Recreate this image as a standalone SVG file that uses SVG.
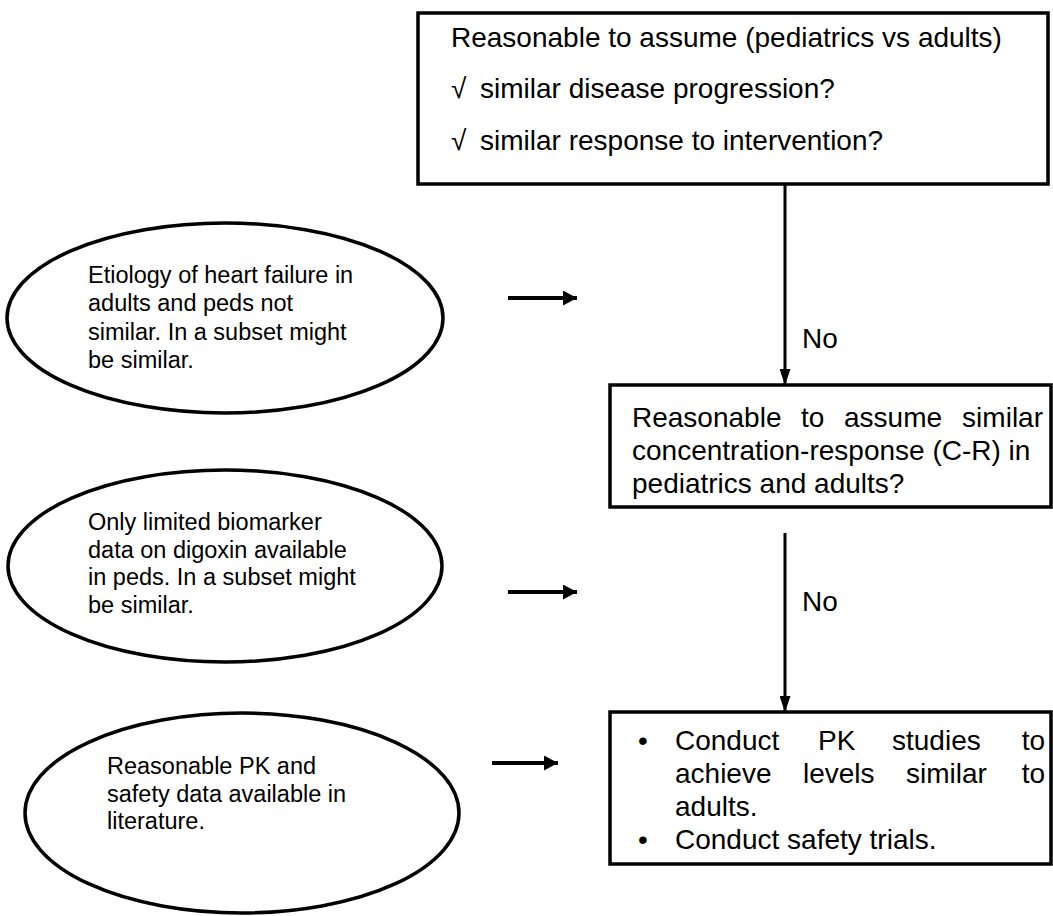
<svg xmlns="http://www.w3.org/2000/svg" width="1053" height="916" viewBox="0 0 1053 916">
<style>
.box{fill:#fff;stroke:#000;stroke-width:3.5}
.ell{fill:#fff;stroke:#000;stroke-width:3.5}
.bt{font-family:"Liberation Sans",Arial,sans-serif;font-size:28px;fill:#000}
.et{font-family:"Liberation Sans",Arial,sans-serif;font-size:23.5px;fill:#000}
.lh{stroke:#000;stroke-width:4;fill:none}
.lv{stroke:#000;stroke-width:3;fill:none}
</style>
<defs>
<marker id="ahh" markerUnits="userSpaceOnUse" markerWidth="14" markerHeight="15" refX="14" refY="7.5" orient="auto">
<path d="M0,0 L14,7.5 L0,15 Z" fill="#000"/>
</marker>
<marker id="ahv" markerUnits="userSpaceOnUse" markerWidth="16" markerHeight="11" refX="16" refY="5.5" orient="auto">
<path d="M0,0 L16,5.5 L0,11 Z" fill="#000"/>
</marker>
</defs>
<rect width="1053" height="916" fill="#fff"/>
<g id="top-box">
<rect class="box" x="418" y="13" width="630" height="171"/>
<text class="bt" x="451" y="47">Reasonable to assume (pediatrics vs adults)</text>
<text class="bt" x="451" y="98">√</text>
<text class="bt" x="480" y="98">similar disease progression?</text>
<text class="bt" x="451" y="150">√</text>
<text class="bt" x="480" y="150">similar response to intervention?</text>
</g>
<g id="box-cr">
<rect class="box" x="610" y="385" width="441" height="122"/>
<text class="bt" x="632" y="427">Reasonable</text>
<text class="bt" x="801" y="427">to</text>
<text class="bt" x="844" y="427">assume</text>
<text class="bt" x="1043" y="427" text-anchor="end">similar</text>
<text class="bt" x="632" y="460">concentration-response (C-R) in</text>
<text class="bt" x="632" y="493">pediatrics and adults?</text>
</g>
<g id="box-pk">
<rect class="box" x="610" y="712" width="441" height="152"/>
<text class="bt" x="638" y="750">•</text>
<text class="bt" x="675" y="750">Conduct</text>
<text class="bt" x="818" y="750">PK</text>
<text class="bt" x="892" y="750">studies</text>
<text class="bt" x="1045" y="750" text-anchor="end">to</text>
<text class="bt" x="675" y="783">achieve</text>
<text class="bt" x="803" y="783">levels</text>
<text class="bt" x="906" y="783">similar</text>
<text class="bt" x="1045" y="783" text-anchor="end">to</text>
<text class="bt" x="675" y="816">adults.</text>
<text class="bt" x="638" y="849">•</text>
<text class="bt" x="675" y="849">Conduct safety trials.</text>
</g>
<g id="ellipse-etiology">
<ellipse class="ell" cx="225" cy="318" rx="218" ry="95"/>
<text class="et" x="88" y="283">Etiology of heart failure in</text>
<text class="et" x="88" y="311">adults and peds not</text>
<text class="et" x="88" y="340">similar. In a subset might</text>
<text class="et" x="88" y="368">be similar.</text>
</g>
<g id="ellipse-biomarker">
<ellipse class="ell" cx="225" cy="566" rx="217" ry="96"/>
<text class="et" x="88" y="530">Only limited biomarker</text>
<text class="et" x="88" y="558">data on digoxin available</text>
<text class="et" x="88" y="585">in peds. In a subset might</text>
<text class="et" x="88" y="613">be similar.</text>
</g>
<g id="ellipse-pk">
<ellipse class="ell" cx="242" cy="813" rx="217" ry="100"/>
<text class="et" x="107" y="774">Reasonable PK and</text>
<text class="et" x="107" y="802">safety data available in</text>
<text class="et" x="107" y="829">literature.</text>
</g>
<g id="connectors">
<line class="lv" x1="785" y1="184" x2="785" y2="385" marker-end="url(#ahv)"/>
<text class="bt" x="802" y="348">No</text>
<line class="lv" x1="785" y1="533" x2="785" y2="712" marker-end="url(#ahv)"/>
<text class="bt" x="802" y="611">No</text>
<line class="lh" x1="508" y1="298" x2="577" y2="298" marker-end="url(#ahh)"/>
<line class="lh" x1="508" y1="592" x2="577" y2="592" marker-end="url(#ahh)"/>
<line class="lh" x1="492" y1="763" x2="558" y2="763" marker-end="url(#ahh)"/>
</g>
</svg>
